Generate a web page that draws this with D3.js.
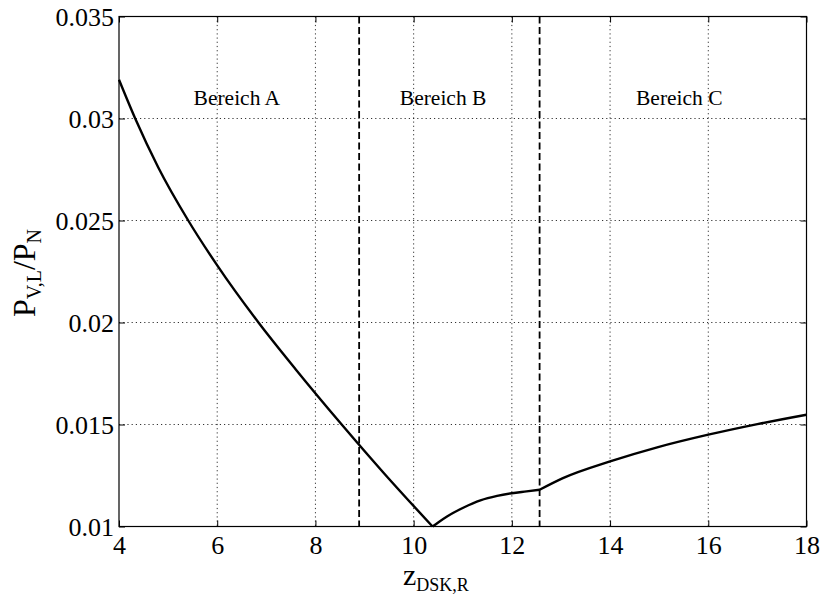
<!DOCTYPE html>
<html>
<head>
<meta charset="utf-8">
<script src="https://cdn.jsdelivr.net/npm/d3@7"></script>
<style>
  html, body { margin: 0; padding: 0; background: #fff; }
  svg { display: block; }
  svg text { font-family: "Liberation Serif", serif; fill: #000; }
</style>
</head>
<body>
<svg id="chart" width="822" height="597"></svg>
<script>
// Normalised loss power over z_DSK,R
const zValues = [4.00, 4.33, 4.80, 5.41, 6.00, 6.84, 7.60, 8.535, 9.40, 10.385,
                 10.50, 10.68, 11.02, 11.36, 11.70, 12.00, 12.30, 12.565,
                 13.04, 14.00, 14.96, 16.00, 17.00, 18.00];
const pValues = [0.0319, 0.0300, 0.0276, 0.0250, 0.0228, 0.0200, 0.0177, 0.0150, 0.0126, 0.0100,
                 0.0102, 0.01049, 0.01093, 0.01128, 0.0115, 0.01163, 0.01172, 0.0118,
                 0.01237, 0.01319, 0.01388, 0.0145, 0.01502, 0.01548];
// Points where the characteristic has a corner
const kinkZ = [10.385, 12.565];
// Region boundaries and labels
const boundaryZ = [8.89, 12.565];
const regionLabels = ["Bereich A", "Bereich B", "Bereich C"];
const regionLabelZ = [6.40, 10.60, 15.41];
const xTicks = [4, 6, 8, 10, 12, 14, 16, 18];
const yTicks = [0.01, 0.015, 0.02, 0.025, 0.03, 0.035];
const yTickLabels = ["0.01", "0.015", "0.02", "0.025", "0.03", "0.035"];

const FONT = '"Liberation Serif", serif';
const svg = d3.select("#chart");
const plotL = 119, plotR = 806.5, plotT = 16.5, plotB = 526.5;

const x = d3.scaleLinear().domain([4, 18]).range([plotL, plotR]);
const y = d3.scaleLinear().domain([0.01, 0.035]).range([plotB, plotT]);

// dotted grid
const grid = svg.append("g");
grid.selectAll("line.v").data(xTicks.slice(1, -1)).join("line")
  .attr("x1", d => x(d)).attr("x2", d => x(d))
  .attr("y1", plotT).attr("y2", plotB)
  .attr("stroke", "#000").attr("stroke-width", 0.8).attr("stroke-dasharray", "1.2,3");
grid.selectAll("line.h").data(yTicks.slice(1, -1)).join("line")
  .attr("y1", d => y(d)).attr("y2", d => y(d))
  .attr("x1", plotL).attr("x2", plotR)
  .attr("stroke", "#000").attr("stroke-width", 0.8).attr("stroke-dasharray", "1.2,3");

// region boundaries
svg.append("g").selectAll("line").data(boundaryZ).join("line")
  .attr("x1", d => x(d)).attr("x2", d => x(d))
  .attr("y1", plotT).attr("y2", plotB)
  .attr("stroke", "#000").attr("stroke-width", 1.8).attr("stroke-dasharray", "7,3.5");

// region labels
svg.append("g").selectAll("text").data(regionLabels).join("text")
  .attr("x", (d, i) => x(regionLabelZ[i]))
  .attr("y", 104.5)
  .attr("text-anchor", "middle")
  .style("font-family", FONT)
  .style("font-size", "21.5px")
  .text(d => d);

// curve, split at the corners so each piece is smoothed on its own
const pts = zValues.map((z, i) => [z, pValues[i]]);
const bounds = [zValues[0], ...kinkZ, zValues[zValues.length - 1]];
const line = d3.line().x(d => x(d[0])).y(d => y(d[1])).curve(d3.curveMonotoneX);
for (let k = 0; k < bounds.length - 1; k++) {
  const seg = pts.filter(p => p[0] >= bounds[k] - 1e-9 && p[0] <= bounds[k + 1] + 1e-9);
  svg.append("path").datum(seg)
    .attr("d", line)
    .attr("fill", "none").attr("stroke", "#000")
    .attr("stroke-width", 2.4).attr("stroke-linejoin", "round");
}

// frame
svg.append("rect").attr("x", plotL).attr("y", plotT)
  .attr("width", plotR - plotL).attr("height", plotB - plotT)
  .attr("fill", "none").attr("stroke", "#000").attr("stroke-width", 1.2);

// inward ticks on all sides
const tickLen = 6;
const axB = d3.axisBottom(x).tickValues(xTicks).tickSizeInner(-tickLen).tickSizeOuter(0).tickFormat(d3.format("d"));
const axT = d3.axisTop(x).tickValues(xTicks).tickSizeInner(-tickLen).tickSizeOuter(0).tickFormat("");
const axL = d3.axisLeft(y).tickValues(yTicks).tickSizeInner(-tickLen).tickSizeOuter(0).tickPadding(5)
  .tickFormat((d, i) => yTickLabels[i]);
const axR = d3.axisRight(y).tickValues(yTicks).tickSizeInner(-tickLen).tickSizeOuter(0).tickFormat("");

function styleAxis(g) {
  g.attr("font-family", null).attr("font-size", null);
  g.select(".domain").remove();
  g.selectAll(".tick line").attr("stroke", "#000").attr("stroke-width", 1);
  g.selectAll(".tick text")
    .style("font-family", FONT).style("font-size", "26px").attr("fill", "#000");
}
svg.append("g").attr("transform", `translate(0,${plotB})`).call(axB).call(styleAxis)
  .selectAll(".tick text").attr("y", 27.5).attr("dy", 0);
svg.append("g").attr("transform", `translate(0,${plotT})`).call(axT).call(styleAxis);
svg.append("g").attr("transform", `translate(${plotL},0)`).call(axL).call(styleAxis)
  .selectAll(".tick text").attr("dy", "0.34em");
svg.append("g").attr("transform", `translate(${plotR},0)`).call(axR).call(styleAxis);

// x-axis title
const xt = svg.append("text").attr("x", 403).attr("y", 585)
  .style("font-family", FONT).style("font-size", "30px");
xt.append("tspan").text("z");
xt.append("tspan").style("font-size", "18px").attr("dy", 6).text("DSK,R");

// y-axis title
const yt = svg.append("text").attr("transform", "translate(35,317) rotate(-90)")
  .style("font-family", FONT).style("font-size", "32px");
yt.append("tspan").text("P");
yt.append("tspan").style("font-size", "20px").attr("dy", 6).text("V,L");
yt.append("tspan").attr("dy", -6).text("/P");
yt.append("tspan").style("font-size", "20px").attr("dy", 6).text("N");
</script>
</body>
</html>
